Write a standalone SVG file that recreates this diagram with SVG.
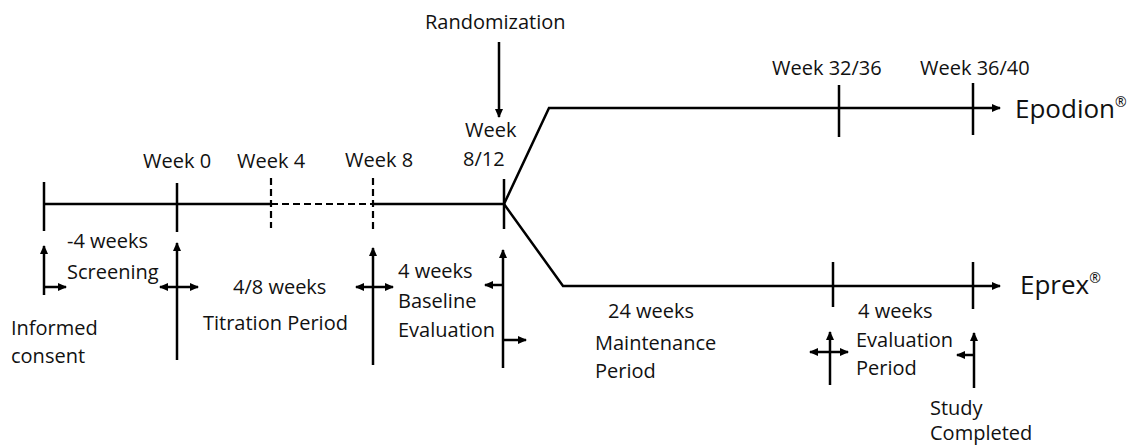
<svg xmlns="http://www.w3.org/2000/svg" width="1133" height="446" viewBox="0 0 1133 446">
<style>
.ln{stroke:#000;stroke-width:2.5;fill:none}
.ds{stroke:#000;stroke-width:2.2;fill:none;stroke-dasharray:7,4}
.ar{stroke:#000;stroke-width:2.5;fill:none;marker-end:url(#ah)}
.ar2{stroke:#000;stroke-width:2.5;fill:none;marker-end:url(#ah);marker-start:url(#ah)}
text{font-family:"Open Sans","Liberation Sans",sans-serif;font-size:20px;fill:#111}
.big{font-size:26px}
.sup{font-size:14px}
</style>
<defs>
<marker id="ah" markerUnits="userSpaceOnUse" markerWidth="9" markerHeight="9" refX="8" refY="4.5" orient="auto-start-reverse" viewBox="0 0 9 9">
<path d="M0,0.5 L9,4.5 L0,8.5 z" fill="#000"/>
</marker>
</defs>
<g id="timeline">
<line class="ln" x1="44" y1="204" x2="271" y2="204"/>
<line class="ds" x1="271" y1="204" x2="373" y2="204"/>
<line class="ln" x1="373" y1="204" x2="504" y2="204"/>
<line class="ln" x1="44" y1="182" x2="44" y2="231"/>
<line class="ln" x1="177" y1="183" x2="177" y2="232"/>
<line class="ds" x1="271" y1="178" x2="271" y2="228"/>
<line class="ds" x1="373" y1="178" x2="373" y2="232"/>
<line class="ln" x1="504" y1="179" x2="504" y2="229"/>
</g>
<g id="epodion-branch">
<polyline class="ln" points="504,204 549,108 1000,108" style="marker-end:url(#ah)"/>
<line class="ln" x1="839" y1="85" x2="839" y2="137"/>
<line class="ln" x1="973" y1="83" x2="973" y2="135"/>
<text x="772" y="75">Week 32/36</text>
<text x="920" y="75">Week 36/40</text>
<text class="big" x="1015" y="118">Epodion<tspan class="sup" dy="-11">®</tspan></text>
</g>
<g id="eprex-branch">
<polyline class="ln" points="504,204 563,286 1000,286" style="marker-end:url(#ah)"/>
<line class="ln" x1="833" y1="262" x2="833" y2="307"/>
<line class="ln" x1="973" y1="262" x2="973" y2="309"/>
<text class="big" x="1020" y="294">Eprex<tspan class="sup" dy="-11">®</tspan></text>
</g>
<g id="labels-top">
<text x="143" y="168">Week 0</text>
<text x="237" y="168">Week 4</text>
<text x="345" y="167">Week 8</text>
<text x="465" y="137">Week</text>
<text x="463" y="166">8/12</text>
<text x="425" y="29">Randomization</text>
</g>
<g id="connectors">
<line class="ar" x1="499" y1="42" x2="499" y2="117"/>
<line class="ar" x1="44" y1="295" x2="44" y2="246"/>
<line class="ar" x1="45" y1="287" x2="66" y2="287"/>
<line class="ar" x1="177" y1="360" x2="177" y2="243"/>
<line class="ar2" x1="160" y1="287" x2="198" y2="287"/>
<line class="ar" x1="373" y1="365" x2="373" y2="248"/>
<line class="ar2" x1="356" y1="287" x2="393" y2="287"/>
<line class="ar" x1="503" y1="368" x2="503" y2="250"/>
<line class="ar" x1="503" y1="285" x2="485" y2="285"/>
<line class="ar" x1="503" y1="340" x2="526" y2="340"/>
<line class="ar" x1="830" y1="385" x2="830" y2="332"/>
<line class="ar2" x1="810" y1="352" x2="848" y2="352"/>
<line class="ar" x1="974" y1="388" x2="974" y2="333"/>
<line class="ar" x1="974" y1="355" x2="957" y2="355"/>
</g>
<g id="labels-bottom">
<text x="67" y="248">-4 weeks</text>
<text x="67" y="279">Screening</text>
<text x="11" y="335">Informed</text>
<text x="11" y="363">consent</text>
<text x="233" y="294">4/8 weeks</text>
<text x="203" y="330">Titration Period</text>
<text x="398" y="278">4 weeks</text>
<text x="398" y="308">Baseline</text>
<text x="398" y="337">Evaluation</text>
<text x="608" y="318">24 weeks</text>
<text x="595" y="350">Maintenance</text>
<text x="595" y="378">Period</text>
<text x="858" y="318">4 weeks</text>
<text x="856" y="347">Evaluation</text>
<text x="856" y="375">Period</text>
<text x="930" y="415">Study</text>
<text x="930" y="440">Completed</text>
</g>
</svg>
